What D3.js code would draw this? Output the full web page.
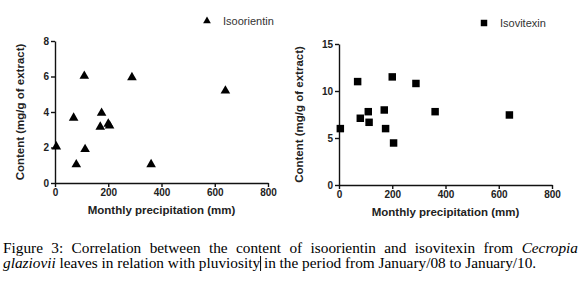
<!DOCTYPE html>
<html>
<head>
<meta charset="utf-8">
<script src="https://cdn.jsdelivr.net/npm/d3@7"></script>
<style>
  body { margin: 0; background: #fff; }
  svg { display: block; }
  .tick text { font-family: "Liberation Sans", Arial, sans-serif; font-size: 10px; font-weight: bold; fill: #222; }
  .domain, .tick line { stroke: #111; stroke-width: 1.4px; }
</style>
</head>
<body>
<div id="chart"></div>
<script>
/* DATA */
const precipitation = [5, 70, 80, 110, 113, 170, 175, 200, 205, 289, 361, 640];
const isoorientin = [2.05, 3.67, 1.04, 6.03, 1.9, 3.16, 3.94, 3.33, 3.22, 5.95, 1.05, 5.2];
const isovitexin = [6.0, 11.0, 7.1, 7.8, 6.67, 7.98, 6.0, 11.5, 4.47, 10.8, 7.8, 7.45];
const xTicks = [0, 200, 400, 600, 800];
const leftYTicks = [0, 2, 4, 6, 8];
const rightYTicks = [0, 5, 10, 15];
const captionLine1 = "Figure 3: Correlation between the content of isoorientin and isovitexin from";
const captionLine2 = "leaves in relation with pluviosity in the period from January/08 to January/10.";

/* CONSTANTS */
const width = 579, height = 282;
const sans = "'Liberation Sans', Arial, sans-serif";
const serif = "'Liberation Serif', 'Times New Roman', serif";

const svg = d3.select("#chart").append("svg")
  .attr("width", width)
  .attr("height", height);

const panels = [
  { name: "Isoorientin", values: isoorientin, yMax: 8, yTicks: leftYTicks,
    x0: 55, x1: 268, yTop: 41, yBot: 183, shape: d3.symbolTriangle,
    legendX: 207, legendY: 21, labelX: 20 },
  { name: "Isovitexin", values: isovitexin, yMax: 15, yTicks: rightYTicks,
    x0: 339, x1: 552, yTop: 44, yBot: 185, shape: d3.symbolSquare,
    legendX: 484, legendY: 23, labelX: 299 }
];

panels.forEach(p => {
  const xScale = d3.scaleLinear().domain([0, 800]).range([p.x0, p.x1]);
  const yScale = d3.scaleLinear().domain([0, p.yMax]).range([p.yBot, p.yTop]);

  const g = svg.append("g");

  g.append("g")
    .attr("transform", `translate(0,${p.yBot})`)
    .call(d3.axisBottom(xScale).tickValues(xTicks).tickSize(4).tickSizeOuter(0).tickPadding(2));

  g.append("g")
    .attr("transform", `translate(${p.x0},0)`)
    .call(d3.axisLeft(yScale).tickValues(p.yTicks).tickSize(4).tickSizeOuter(0).tickPadding(2));

  // axis titles
  g.append("text")
    .attr("x", (p.x0 + p.x1) / 2)
    .attr("y", p.yBot + 31)
    .attr("text-anchor", "middle")
    .attr("font-family", sans)
    .attr("font-size", 11.5)
    .attr("font-weight", "bold")
    .attr("fill", "#222")
    .text("Monthly precipitation (mm)");

  g.append("text")
    .attr("transform", `translate(${p.labelX},${(p.yTop + p.yBot) / 2}) rotate(-90)`)
    .attr("text-anchor", "middle")
    .attr("dy", "0.35em")
    .attr("font-family", sans)
    .attr("font-size", 11.5)
    .attr("font-weight", "bold")
    .attr("fill", "#222")
    .text("Content (mg/g of extract)");

  // points
  const sym = d3.symbol().type(p.shape).size(p.shape === d3.symbolSquare ? 56 : 40);
  g.selectAll("path.pt")
    .data(precipitation.map((x, i) => ({ x, y: p.values[i] })))
    .join("path")
    .attr("class", "pt")
    .attr("transform", d => `translate(${xScale(d.x)},${yScale(d.y)})`)
    .attr("d", sym)
    .attr("fill", "#000");

  // legend
  g.append("path")
    .attr("transform", `translate(${p.legendX},${p.legendY})`)
    .attr("d", d3.symbol().type(p.shape).size(p.shape === d3.symbolSquare ? 42 : 26))
    .attr("fill", "#000");
  g.append("text")
    .attr("x", p.legendX + 16)
    .attr("y", p.legendY + 4)
    .attr("font-family", sans)
    .attr("font-size", 11)
    .attr("fill", "#333")
    .text(p.name);
});

// caption, first line justified across the page
const cap = svg.append("g")
  .attr("font-family", serif)
  .attr("font-size", 15.3)
  .attr("fill", "#000");

const words1 = captionLine1.split(" ").map(w => ({ w, italic: false }));
words1.push({ w: "Cecropia", italic: true });
const measured = words1.map(d => {
  const t = cap.append("text")
    .attr("y", 253)
    .attr("font-style", d.italic ? "italic" : null)
    .text(d.w);
  return { t, len: t.node().getComputedTextLength() };
});
const startX = 3, endX = 578;
const total = d3.sum(measured, d => d.len);
const gap = (endX - startX - total) / (measured.length - 1);
let cx = startX;
measured.forEach(d => {
  d.t.attr("x", cx);
  cx += d.len + gap;
});

const line2 = cap.append("text").attr("x", 3).attr("y", 268);
line2.append("tspan").attr("font-style", "italic").text("glaziovii");
line2.append("tspan").text(" " + captionLine2);

// text cursor after "pluviosity"
const full = line2.node();
const cursorIdx = ("glaziovii " + "leaves in relation with pluviosity").length;
const cursorX = 3 + full.getSubStringLength(0, cursorIdx) + 0.5;
cap.append("line")
  .attr("x1", cursorX).attr("x2", cursorX)
  .attr("y1", 256).attr("y2", 271)
  .attr("stroke", "#000").attr("stroke-width", 1);
</script>
</body>
</html>
